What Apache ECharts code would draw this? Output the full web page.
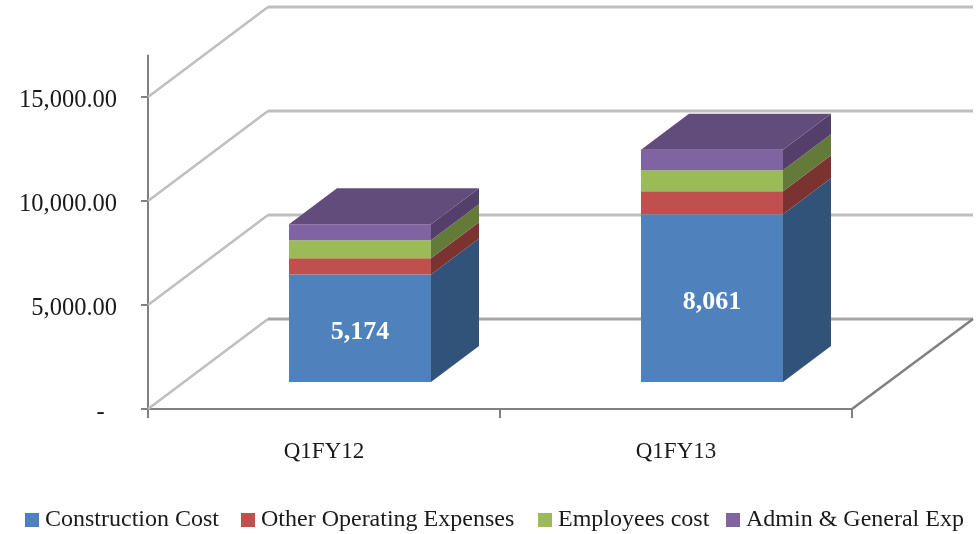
<!DOCTYPE html>
<html>
<head>
<meta charset="utf-8">
<style>html,body{margin:0;padding:0;background:#fff}#c{width:977px;height:534px}</style>
<script src="https://cdn.jsdelivr.net/npm/echarts@6/dist/echarts.min.js"></script>
</head>
<body>
<div id="c"></div>
<script>
const categories = ['Q1FY12', 'Q1FY13'];
const constructionCost = [5174, 8061];
const otherOperatingExpenses = [770, 1105];
const employeesCost = [865, 1010];
const adminGeneralExp = [770, 990];
const yTicks = [0, 5000, 10000, 15000];

const FONT = '"Liberation Serif", serif';
const TEXT = '#1a1a1a';
const WALL_DX = 120, WALL_DY = -90;      // depth of the floor in pixels
const GAP_DX = 36, GAP_DY = -27;         // bar inset from the front plane
const BAR_DX = 48, BAR_DY = -36;         // bar depth
const BAR_RATIO = 142 / 352;

const seriesDefs = [
  { name: 'Construction Cost', values: constructionCost, front: '#4F81BD', side: '#315279', top: '#3A6291', label: true, legendLeft: 25 },
  { name: 'Other Operating Expenses', values: otherOperatingExpenses, front: '#C0504D', side: '#7A3330', top: '#8F3B39', legendLeft: 241 },
  { name: 'Employees cost', values: employeesCost, front: '#9BBB59', side: '#647A39', top: '#748C42', legendLeft: 538 },
  { name: 'Admin & General Exp', values: adminGeneralExp, front: '#8064A2', side: '#543F6A', top: '#624C7B', legendLeft: 726 }
];

const running = categories.map(() => 0);
const barSeries = seriesDefs.map((def, s) => {
  const data = def.values.map((v, i) => {
    const base = running[i];
    running[i] += v;
    return [i, base, running[i], v];
  });
  return {
    type: 'custom',
    name: def.name,
    z: 5,
    itemStyle: { color: def.front },
    encode: { x: 0, y: [1, 2] },
    data,
    renderItem(params, api) {
      const i = api.value(0);
      const w = api.size([1, 0])[0] * BAR_RATIO;
      const b = api.coord([i, api.value(1)]);
      const t = api.coord([i, api.value(2)]);
      const xL = b[0] + GAP_DX - w / 2, xR = xL + w;
      const yB = b[1] + GAP_DY, yT = t[1] + GAP_DY;
      const children = [
        { type: 'polygon', shape: { points: [[xR, yB], [xR + BAR_DX, yB + BAR_DY], [xR + BAR_DX, yT + BAR_DY], [xR, yT]] }, style: { fill: def.side } },
        { type: 'rect', shape: { x: xL, y: yT, width: w, height: yB - yT }, style: { fill: def.front } }
      ];
      if (s === seriesDefs.length - 1) {
        children.push({ type: 'polygon', shape: { points: [[xL, yT], [xL + BAR_DX, yT + BAR_DY], [xR + BAR_DX, yT + BAR_DY], [xR, yT]] }, style: { fill: def.top } });
      }
      if (def.label) {
        children.push({ type: 'text', z2: 10, style: {
          x: (xL + xR) / 2, y: (yB + yT) / 2 + 4.5,
          text: api.value(3).toLocaleString('en-US'),
          fill: '#fff', font: 'bold 26px ' + FONT, align: 'center', verticalAlign: 'middle'
        } });
      }
      return { type: 'group', children };
    }
  };
});

const wallSeries = {
  type: 'custom',
  silent: true,
  z: 1,
  data: yTicks.map(v => [0, v]),
  encode: { x: 0, y: 1 },
  renderItem(params, api) {
    const cs = params.coordSys;
    const v = api.value(1);
    const y = api.coord([0, v])[1];
    const xL = cs.x, xR = cs.x + cs.width;
    const children = [
      { type: 'polyline', shape: { points: [[xL, y], [xL + WALL_DX, y + WALL_DY]] }, style: { stroke: '#BEBEBE', lineWidth: 2.5, fill: null } },
      { type: 'polyline', shape: { points: [[xL + WALL_DX, y + WALL_DY], [xR + WALL_DX + 1, y + WALL_DY]] }, style: { stroke: v === 0 ? '#A6A6A6' : '#BEBEBE', lineWidth: 3, fill: null } }
    ];
    if (v === 0) {
      children.push({ type: 'polyline', shape: { points: [[xR, y], [xR + WALL_DX + 1, y + WALL_DY]] }, style: { stroke: '#808080', lineWidth: 2.5, fill: null } });
    }
    return { type: 'group', children };
  }
};

const chart = echarts.init(document.getElementById('c'), null, { renderer: 'canvas' });
chart.setOption({
  animation: false,
  backgroundColor: '#fff',
  grid: { left: 148, width: 704, top: 55.4, height: 353.6 },
  legend: seriesDefs.map(d => ({
    left: d.legendLeft, top: 508,
    data: [d.name],
    icon: 'rect', itemWidth: 14, itemHeight: 14,
    selectedMode: false,
    padding: 0,
    textStyle: { fontFamily: FONT, fontSize: 24, color: TEXT, padding: [0, 0, 0, 1] }
  })),
  xAxis: {
    type: 'category',
    data: categories,
    axisLine: { lineStyle: { color: '#808080', width: 2 } },
    axisTick: { show: true, length: 9, lineStyle: { color: '#808080', width: 2 } },
    axisLabel: { fontFamily: FONT, fontSize: 23, color: TEXT, margin: 31 }
  },
  yAxis: {
    type: 'value',
    min: 0, max: 17000, interval: 5000,
    axisLine: { show: true, lineStyle: { color: '#808080', width: 2 } },
    axisTick: { show: true, length: 7, customValues: yTicks, lineStyle: { color: '#808080', width: 2 } },
    axisLabel: {
      fontFamily: FONT, fontSize: 24.5, color: TEXT, margin: 31,
      verticalAlign: 'top', lineHeight: 8,
      customValues: yTicks,
      formatter: v => v === 0 ? '-\u00a0\u00a0' : v.toLocaleString('en-US', { minimumFractionDigits: 2, maximumFractionDigits: 2 })
    },
    splitLine: { show: false }
  },
  series: [wallSeries].concat(barSeries)
});
</script>
</body>
</html>
